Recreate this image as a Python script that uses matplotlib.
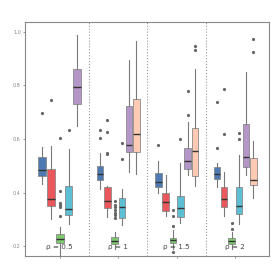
import matplotlib
matplotlib.use("Agg")
import matplotlib.pyplot as plt

# groups along x and their labels
rho_labels = ["\u03c1 = 0.5", "\u03c1 = 1", "\u03c1 = 1.5", "\u03c1 = 2"]
method_colors = ["#4d7ab3", "#ea575c", "#7dc96e", "#5cbfd4", "#b596c8", "#ffcab4"]

# box stats per group: (whislo, q1, med, q3, whishi, fliers), one tuple per method
group1 = [
    (0.431, 0.462, 0.483, 0.532, 0.569, [0.699]),
    (0.300, 0.350, 0.375, 0.488, 0.574, [0.747]),
    (0.150, 0.210, 0.226, 0.247, 0.272, [0.602, 0.406, 0.362, 0.355, 0.345, 0.311]),
    (0.282, 0.316, 0.337, 0.426, 0.563, [0.634]),
    (0.647, 0.732, 0.793, 0.861, 0.990, []),
]
group2 = [
    (0.412, 0.447, 0.469, 0.501, 0.547, [0.634, 0.603]),
    (0.307, 0.343, 0.370, 0.420, 0.424, [0.672, 0.626, 0.549, 0.543]),
    (0.190, 0.207, 0.219, 0.235, 0.253, [0.370, 0.355, 0.345, 0.335, 0.325, 0.315, 0.305]),
    (0.279, 0.304, 0.347, 0.381, 0.412, [0.584, 0.525]),
    (0.476, 0.553, 0.578, 0.724, 0.896, []),
    (0.469, 0.553, 0.618, 0.751, 0.967, []),
]
group3 = [
    (0.397, 0.422, 0.441, 0.472, 0.516, [0.578]),
    (0.312, 0.331, 0.364, 0.397, 0.466, []),
    (0.190, 0.212, 0.222, 0.231, 0.260, [0.335, 0.312, 0.275, 0.178]),
    (0.287, 0.307, 0.343, 0.387, 0.510, [0.599]),
    (0.466, 0.488, 0.516, 0.566, 0.665, [0.780, 0.690]),
    (0.425, 0.462, 0.557, 0.641, 0.861, [0.949, 0.934]),
]
group4 = [
    (0.422, 0.452, 0.468, 0.495, 0.512, [0.739, 0.566]),
    (0.312, 0.345, 0.375, 0.420, 0.476, [0.787, 0.619]),
    (0.190, 0.207, 0.219, 0.229, 0.253, [0.285, 0.262]),
    (0.282, 0.320, 0.350, 0.420, 0.541, [0.622, 0.599]),
    (0.466, 0.495, 0.534, 0.656, 0.850, []),
    (0.378, 0.428, 0.447, 0.528, 0.593, [0.975, 0.926]),
]
groups = [group1, group2, group3, group4]

fig = plt.figure(figsize=(2.73, 2.73), dpi=100)
ax = fig.add_axes([0.0916, 0.0623, 0.894, 0.858])

dodge = 0.75
for gi, group in enumerate(groups):
    center = gi + 1
    n = len(group)
    slot = dodge / n
    for bi, (lo, q1, med, q3, hi, fl) in enumerate(group):
        pos = center - dodge / 2 + slot * (bi + 0.5)
        stats = [dict(whislo=lo, q1=q1, med=med, q3=q3, whishi=hi, fliers=fl)]
        ax.bxp(stats, positions=[pos], widths=slot * 0.9, patch_artist=True,
               showcaps=False,
               boxprops=dict(facecolor=method_colors[bi], edgecolor="#8a8a8a", linewidth=0.6),
               medianprops=dict(color="#333333", linewidth=1.0),
               whiskerprops=dict(color="#7a7a7a", linewidth=0.8),
               flierprops=dict(marker="o", markersize=1.3, markerfacecolor="#666666",
                               markeredgecolor="#666666"))
    ax.text(center, 0.196, rho_labels[gi], ha="center", va="center",
            fontsize=5.2, color="#444444")

for xd in [1.5, 2.5, 3.5]:
    ax.axvline(xd, color="#999999", linestyle=":", linewidth=0.8)

ax.set_xlim(0.406, 4.58)
ax.set_ylim(0.163, 1.038)
ax.set_xticks([1, 2, 3, 4])
ax.set_xticklabels([])
ax.set_yticks([0.2, 0.4, 0.6, 0.8, 1.0])
ax.set_yticklabels(["0.2", "0.4", "0.6", "0.8", "1.0"])
ax.tick_params(axis="both", labelsize=3.5, colors="#888888", length=1.5, width=0.6, pad=1.5)
for sp in ax.spines.values():
    sp.set_color("#888888")
    sp.set_linewidth(0.8)

fig.savefig("out.png", dpi=100)
